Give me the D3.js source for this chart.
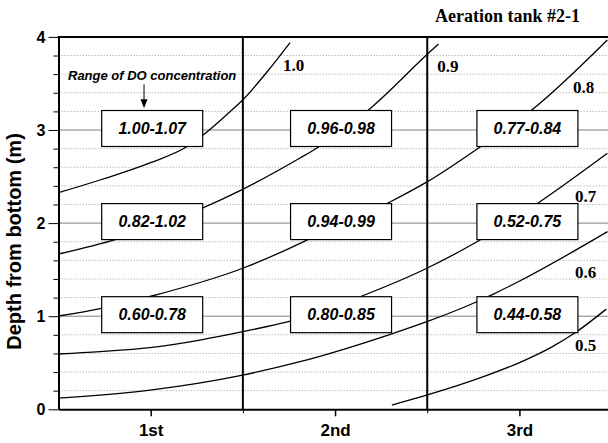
<!DOCTYPE html>
<html>
<head>
<meta charset="utf-8">
<script src="https://cdn.jsdelivr.net/npm/d3@7"></script>
<style>
  body { margin: 0; background: #fff; }
  .axis text { font-family: "Liberation Sans", Arial, sans-serif; font-weight: bold; fill: #000; }
  .axis path, .axis line { stroke: #000; }
</style>
</head>
<body>
<div id="chart"></div>
<script>
// sections of the tank along x, depth (m) along y
var sections = ["1st", "2nd", "3rd"];
var depthTicks = [0, 1, 2, 3, 4];
var boxDepths = [1, 2, 3];

// measured DO range in each section, for depth 1, 2, 3
var rangeLabels = [
  ["0.60-0.78", "0.82-1.02", "1.00-1.07"],
  ["0.80-0.85", "0.94-0.99", "0.96-0.98"],
  ["0.44-0.58", "0.52-0.75", "0.77-0.84"]
];

// DO isolines, points are [section position, depth]
var levels = ["1.0", "0.9", "0.8", "0.7", "0.6", "0.5"];
var iso10 = [[0.5,2.327],[0.725,2.463],[0.996,2.646],[1.202,2.828],[1.284,2.946],[1.430,3.197],[1.499,3.322],[1.631,3.623],[1.756,3.938]];
var iso09 = [[0.5,1.668],[0.817,1.829],[1.277,2.159],[1.499,2.363],[1.810,2.699],[1.902,2.807],[2.181,3.215],[2.506,3.824],[2.561,3.924]];
var iso08 = [[0.5,1.002],[0.734,1.085],[1.007,1.217],[1.499,1.515],[1.810,1.783],[1.901,1.872],[2.298,2.227],[2.501,2.445],[2.796,2.831],[3.067,3.215],[3.477,3.967]];
var iso07 = [[0.5,0.594],[0.725,0.619],[0.996,0.662],[1.267,0.744],[1.499,0.834],[1.810,0.977],[2.136,1.209],[2.498,1.515],[2.760,1.789],[3.085,2.194],[3.477,2.750]];
var iso06 = [[0.5,0.121],[0.996,0.207],[1.499,0.368],[1.810,0.511],[2.316,0.816],[2.498,0.941],[2.750,1.139],[2.859,1.238],[3.004,1.381],[3.478,1.908]];
var iso05 = [[2.308,0.046],[2.501,0.154],[2.805,0.350],[3.004,0.505],[3.167,0.660],[3.302,0.822],[3.471,1.076]];
var isolines = [iso10, iso09, iso08, iso07, iso06, iso05];

// where each isoline value is written
var levelLabelAt = [[1.718,3.637],[2.555,3.626],[3.290,3.397],[3.302,2.230],[3.302,1.407],[3.302,0.629]];

var width = 608, height = 443;

var x = d3.scaleLinear().domain([0.5, 3.5]).range([58.5, 611.6]);
var y = d3.scaleLinear().domain([0, 4]).range([409.3, 36.9]);

var svg = d3.select("#chart").append("svg")
    .attr("width", width)
    .attr("height", height)
    .style("background-color", "#fff");

svg.append("clipPath").attr("id", "plot-clip")
  .append("rect")
    .attr("x", x(0.5)).attr("y", y(4))
    .attr("width", x(3.5) - x(0.5)).attr("height", y(0) - y(4));

// dotted grid every 0.2 m
var minor = d3.range(1, 20).map(function(i) { return i / 5; })
  .filter(function(v) { return Math.abs(v - Math.round(v)) > 0.01; });
svg.append("g").selectAll("line")
    .data(minor)
  .enter().append("line")
    .attr("x1", x(0.5)).attr("x2", x(3.5))
    .attr("y1", function(d) { return y(d); })
    .attr("y2", function(d) { return y(d); })
    .style("stroke", "#bdbdbd")
    .style("stroke-width", 1)
    .style("stroke-dasharray", "1.5,1.5");

// grey lines through the measuring depths
svg.append("g").selectAll("line")
    .data(boxDepths)
  .enter().append("line")
    .attr("x1", x(0.5)).attr("x2", x(3.5))
    .attr("y1", function(d) { return y(d); })
    .attr("y2", function(d) { return y(d); })
    .style("stroke", "#808080")
    .style("stroke-width", 1);

// isolines
var isoLine = d3.line()
    .x(function(d) { return x(d[0]); })
    .y(function(d) { return y(d[1]); })
    .curve(d3.curveMonotoneX);

svg.append("g").attr("clip-path", "url(#plot-clip)")
  .selectAll("path")
    .data(isolines)
  .enter().append("path")
    .attr("d", isoLine)
    .style("fill", "none")
    .style("stroke", "#000")
    .style("stroke-width", 1.3);

// section separators
svg.append("g").selectAll("line")
    .data([1.5, 2.5])
  .enter().append("line")
    .attr("x1", function(d) { return x(d); })
    .attr("x2", function(d) { return x(d); })
    .attr("y1", y(4)).attr("y2", y(0))
    .style("stroke", "#000")
    .style("stroke-width", 2);

// range boxes
var boxShift = [1.5, 6, 8];
var boxes = [];
rangeLabels.forEach(function(col, i) {
  col.forEach(function(lbl, j) {
    boxes.push({ sec: i + 1, depth: boxDepths[j], label: lbl, shift: boxShift[i] });
  });
});

var boxG = svg.append("g").selectAll("g")
    .data(boxes)
  .enter().append("g")
    .attr("transform", function(d) {
      return "translate(" + (x(d.sec) + d.shift) + "," + (y(d.depth) - 1.5) + ")";
    });

boxG.append("rect")
    .attr("x", -50.5).attr("y", -18)
    .attr("width", 101).attr("height", 36)
    .style("fill", "#fff")
    .style("stroke", "#000")
    .style("stroke-width", 1.2);

boxG.append("text")
    .attr("text-anchor", "middle")
    .attr("dy", "0.36em")
    .style("font-family", "'Liberation Sans', Arial, sans-serif")
    .style("font-weight", "bold")
    .style("font-style", "italic")
    .style("font-size", "16px")
    .text(function(d) { return d.label; });

// isoline values
svg.append("g").selectAll("text")
    .data(levels)
  .enter().append("text")
    .attr("x", function(d, i) { return x(levelLabelAt[i][0]); })
    .attr("y", function(d, i) { return y(levelLabelAt[i][1]); })
    .style("font-family", "'Liberation Serif', 'Times New Roman', serif")
    .style("font-weight", "bold")
    .style("font-size", "17px")
    .text(function(d) { return d; });

// note with arrow
svg.append("text")
    .attr("x", x(1.008))
    .attr("y", y(3.535))
    .attr("text-anchor", "middle")
    .style("font-family", "'Liberation Sans', Arial, sans-serif")
    .style("font-weight", "bold")
    .style("font-style", "italic")
    .style("font-size", "13px")
    .text("Range of DO concentration");

svg.append("line")
    .attr("x1", x(0.964)).attr("x2", x(0.964))
    .attr("y1", y(3.49)).attr("y2", y(3.32))
    .style("stroke", "#000")
    .style("stroke-width", 1);

svg.append("path")
    .attr("d", "M" + (x(0.964) - 3.5) + "," + (y(3.32) - 1) + "L" + (x(0.964) + 3.5) + "," + (y(3.32) - 1) +
               "L" + x(0.964) + "," + (y(3.32) + 8) + "Z")
    .style("fill", "#000");

// y axis: minor then major ticks
svg.append("g")
    .attr("class", "axis")
    .attr("transform", "translate(" + x(0.5) + ",0)")
    .call(d3.axisLeft(y).tickValues(minor).tickSize(5).tickSizeOuter(0).tickFormat(""))
    .call(function(g) { g.select(".domain").remove(); });

svg.append("g")
    .attr("class", "axis y")
    .attr("transform", "translate(" + x(0.5) + ",0)")
    .call(d3.axisLeft(y).tickValues(depthTicks).tickSize(10).tickSizeOuter(0).tickPadding(3)
      .tickFormat(d3.format("d")))
    .call(function(g) {
      g.select(".domain").style("stroke-width", 2);
      g.selectAll("text").style("font-size", "16px");
    });

// x axis
svg.append("g")
    .attr("class", "axis")
    .attr("transform", "translate(0," + y(0) + ")")
    .call(d3.axisBottom(x).tickValues([1.5, 2.5]).tickSize(4).tickSizeOuter(0).tickFormat(""))
    .call(function(g) { g.select(".domain").remove(); });

svg.append("g")
    .attr("class", "axis x")
    .attr("transform", "translate(0," + y(0) + ")")
    .call(d3.axisBottom(x).tickValues([1, 2, 3]).tickSize(7).tickSizeOuter(0)
      .tickFormat(function(d) { return sections[d - 1]; }))
    .call(function(g) {
      g.select(".domain").style("stroke-width", 2);
      g.selectAll("line").style("stroke-width", 1.5);
      g.selectAll("text").attr("y", 14.6).style("font-size", "17px");
    });

// top frame
svg.append("line")
    .attr("x1", x(0.5) - 1).attr("x2", x(3.5))
    .attr("y1", y(4)).attr("y2", y(4))
    .style("stroke", "#000")
    .style("stroke-width", 2);

// y label
svg.append("text")
    .attr("transform", "translate(21," + 241.5 + ") rotate(-90)")
    .attr("text-anchor", "middle")
    .style("font-family", "'Liberation Sans', Arial, sans-serif")
    .style("font-weight", "bold")
    .style("font-size", "20px")
    .text("Depth from bottom (m)");

// title
svg.append("text")
    .attr("x", 435)
    .attr("y", 22)
    .style("font-family", "'Liberation Serif', 'Times New Roman', serif")
    .style("font-weight", "bold")
    .style("font-size", "18px")
    .text("Aeration tank #2-1");
</script>
</body>
</html>
